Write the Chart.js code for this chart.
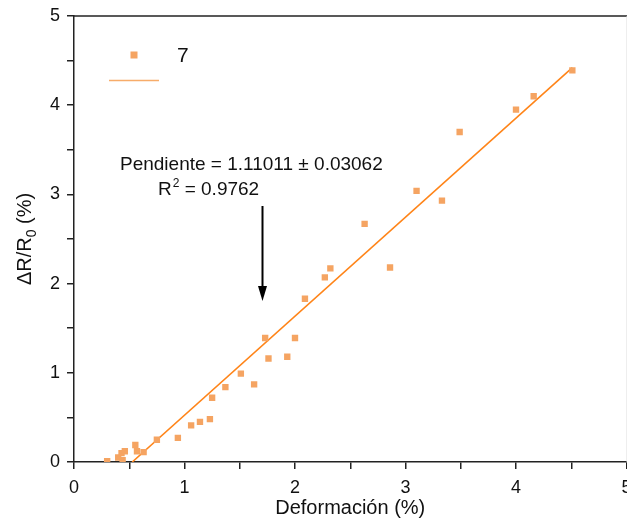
<!DOCTYPE html>
<html>
<head>
<meta charset="utf-8">
<script src="https://cdn.jsdelivr.net/npm/chart.js@4/dist/chart.umd.min.js"></script>
<style>
  html, body { margin: 0; padding: 0; background: #fff; overflow: hidden; }
  /* canvas is a few px wider than the page so the last x label runs off the edge */
  #wrap { width: 627px; height: 522px; overflow: hidden; }
</style>
</head>
<body>
<div id="wrap"><canvas id="strainChart" width="631" height="522"></canvas></div>
<script>
// measured strain (%) and relative resistance change (%)
const strainX = [0.30, 0.40, 0.44, 0.43, 0.46, 0.555, 0.57, 0.63, 0.75, 0.94,
                 1.06, 1.14, 1.23, 1.25, 1.37, 1.51, 1.63, 1.73, 1.76, 1.93,
                 2.00, 2.09, 2.27, 2.32, 2.63, 2.86, 3.10, 3.33, 3.49, 4.00,
                 4.16, 4.51];
const resistY = [0.01, 0.05, 0.02, 0.10, 0.12, 0.19, 0.12, 0.11, 0.25, 0.27,
                 0.41, 0.45, 0.48, 0.72, 0.84, 0.99, 0.87, 1.39, 1.16, 1.18,
                 1.39, 1.83, 2.07, 2.17, 2.67, 2.18, 3.04, 2.93, 3.70, 3.95,
                 4.10, 4.39];
const seriesLabel = '7';

// linear fit
const fitSlope = 1.11011;
const fitSlopeErr = 0.03062;
const fitR2 = 0.9762;
const fitIntercept = -0.585;
const fitRangeX = [0.527, 4.51];

const FONT = '"Liberation Sans", Arial, sans-serif';
const pointColor = '#F5A462';
const fitColor = '#FF8418';
const axisColor = '#222';

const intLabel = v => (Number.isInteger(v) ? String(v) : '');

const extras = {
  id: 'extras',
  afterDraw(chart) {
    const { ctx, chartArea: a } = chart;
    ctx.save();

    // top frame line and faint right edge
    ctx.strokeStyle = axisColor;
    ctx.lineWidth = 1.5;
    ctx.beginPath();
    ctx.moveTo(a.left, a.top);
    ctx.lineTo(a.right + 1, a.top);
    ctx.stroke();
    ctx.strokeStyle = '#ddd';
    ctx.lineWidth = 1;
    ctx.beginPath();
    ctx.moveTo(a.right + 0.5, a.top);
    ctx.lineTo(a.right + 0.5, a.bottom);
    ctx.stroke();

    // legend
    ctx.fillStyle = pointColor;
    ctx.fillRect(130.5, 51.5, 7, 7);
    ctx.strokeStyle = '#F7AC6A';
    ctx.lineWidth = 1.5;
    ctx.beginPath();
    ctx.moveTo(109, 80.5);
    ctx.lineTo(159, 80.5);
    ctx.stroke();
    ctx.fillStyle = '#111';
    ctx.font = '21px ' + FONT;
    ctx.textAlign = 'left';
    ctx.textBaseline = 'alphabetic';
    ctx.fillText(seriesLabel, 177, 62);

    // fit annotation
    ctx.font = '19px ' + FONT;
    ctx.fillText('Pendiente = ' + fitSlope.toFixed(5) + ' \u00b1 ' + fitSlopeErr.toFixed(5), 120, 170);
    let tx = 158;
    ctx.fillText('R', tx, 195);
    tx += ctx.measureText('R').width;
    ctx.font = '12px ' + FONT;
    ctx.fillText('2', tx + 1, 187);
    tx += ctx.measureText('2').width + 1;
    ctx.font = '19px ' + FONT;
    ctx.fillText(' = ' + fitR2.toFixed(4), tx, 195);

    // arrow pointing at the fitted line
    const ax = 262.5;
    ctx.strokeStyle = '#000';
    ctx.lineWidth = 2;
    ctx.beginPath();
    ctx.moveTo(ax, 206);
    ctx.lineTo(ax, 290);
    ctx.stroke();
    ctx.fillStyle = '#000';
    ctx.beginPath();
    ctx.moveTo(ax - 4.5, 286);
    ctx.lineTo(ax + 4.5, 286);
    ctx.lineTo(ax, 301);
    ctx.closePath();
    ctx.fill();

    // axis titles
    ctx.fillStyle = '#111';
    ctx.font = '20px ' + FONT;
    ctx.textAlign = 'center';
    ctx.fillText('Deformación (%)', (a.left + a.right) / 2, 514);

    ctx.save();
    ctx.translate(31, (a.top + a.bottom) / 2);
    ctx.rotate(-Math.PI / 2);
    ctx.textAlign = 'left';
    ctx.font = '20px ' + FONT;
    const p1 = '\u0394R/R', p3 = ' (%)';
    const w1 = ctx.measureText(p1).width, w3 = ctx.measureText(p3).width;
    ctx.font = '14px ' + FONT;
    const w2 = ctx.measureText('0').width;
    const sx = -(w1 + w2 + w3) / 2;
    ctx.font = '20px ' + FONT;
    ctx.fillText(p1, sx, 0);
    ctx.font = '14px ' + FONT;
    ctx.fillText('0', sx + w1, 5);
    ctx.font = '20px ' + FONT;
    ctx.fillText(p3, sx + w1 + w2, 0);
    ctx.restore();

    ctx.restore();
  }
};

new Chart(document.getElementById('strainChart'), {
  type: 'scatter',
  data: {
    datasets: [
      {
        label: seriesLabel,
        data: strainX.map((x, i) => ({ x: x, y: resistY[i] })),
        pointStyle: 'rect',
        pointRadius: 4.5,
        pointBorderWidth: 0,
        pointBackgroundColor: pointColor,
        showLine: false
      },
      {
        label: 'fit',
        data: fitRangeX.map(x => ({ x: x, y: fitSlope * x + fitIntercept })),
        showLine: true,
        borderColor: fitColor,
        borderWidth: 1.6,
        pointRadius: 0,
        fill: false
      }
    ]
  },
  options: {
    responsive: false,
    animation: false,
    devicePixelRatio: 1,
    layout: { padding: { top: 16, right: 0, left: 0, bottom: 0 } },
    plugins: { legend: { display: false }, tooltip: { enabled: false } },
    scales: {
      x: {
        type: 'linear',
        min: 0,
        max: 5,
        ticks: {
          stepSize: 0.5,
          autoSkip: false,
          maxRotation: 0,
          callback: intLabel,
          color: '#111',
          padding: 8,
          font: { family: FONT, size: 18 }
        },
        grid: { drawOnChartArea: false, drawTicks: true, tickLength: 7, color: axisColor, lineWidth: 1.5 },
        border: { display: true, color: axisColor, width: 1.5 },
        afterFit(s) { s.height = 60; s.paddingLeft = 0; s.paddingRight = 0; }
      },
      y: {
        type: 'linear',
        min: 0,
        max: 5,
        ticks: {
          stepSize: 0.5,
          autoSkip: false,
          callback: intLabel,
          color: '#111',
          padding: 7,
          font: { family: FONT, size: 18 }
        },
        grid: { drawOnChartArea: false, drawTicks: true, tickLength: 7, color: axisColor, lineWidth: 1.5 },
        border: { display: true, color: axisColor, width: 1.5 },
        afterFit(s) { s.width = 74; s.paddingTop = 0; s.paddingBottom = 0; }
      }
    }
  },
  plugins: [extras]
});
</script>
</body>
</html>
